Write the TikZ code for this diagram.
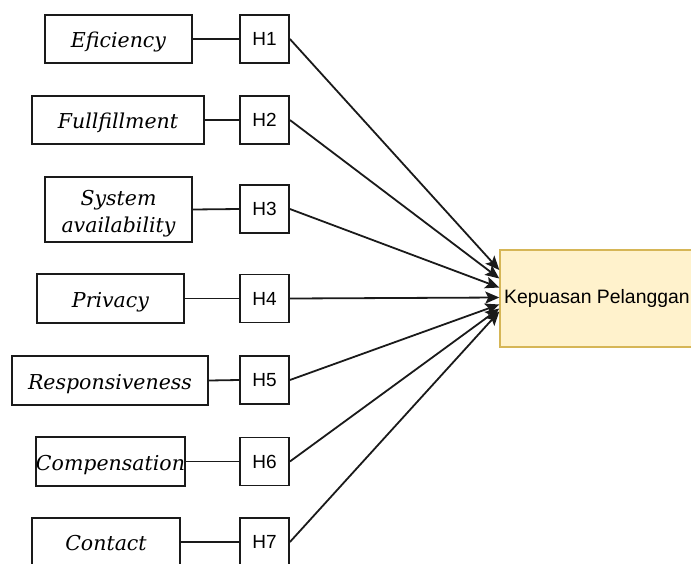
\documentclass[tikz,border=0pt]{standalone}
\usepackage{fontspec}
\setmainfont{Liberation Sans}
\newfontfamily\itfont{DejaVu Serif}
\usetikzlibrary{arrows.meta}
\definecolor{kpfill}{HTML}{FFF2CC}
\definecolor{kpdraw}{HTML}{D6B656}
\definecolor{ln}{HTML}{1A1A1A}
\begin{document}
\begin{tikzpicture}[x=1pt,y=-1pt,
  var/.style={draw=ln,line width=1.8pt,rectangle,inner sep=0pt,minimum height=48pt,
    font=\itfont\itshape\fontsize{20.5}{27}\selectfont,align=center},
  one/.style={text height=19pt,text depth=2pt},
  hyp/.style={draw=ln,line width=1.8pt,rectangle,inner sep=0pt,minimum width=49pt,minimum height=48pt,
    font=\fontsize{19}{22}\selectfont},
  link/.style={draw=ln,line width=1.8pt},
  arr/.style={draw=ln,line width=1.8pt,-{Stealth[length=14pt,width=12pt,inset=3pt]}}]
\useasboundingbox (0,0) rectangle (691,563);
\clip (0,0) rectangle (691,563);
% variables
\node[var,one,minimum width=147pt] (v1) at (118.5,39) {Eficiency};
\node[var,one,minimum width=172pt] (v2) at (118,120) {Fullfillment};
\node[var,minimum width=147pt,minimum height=65pt] (v3) at (118.5,209.5) {\rule{0pt}{23pt}System\\availability};
\node[var,one,minimum width=147pt,minimum height=49pt] (v4) at (110.5,298.5) {Privacy};
\node[var,one,minimum width=196pt,minimum height=49pt] (v5) at (110,380.5) {Responsiveness};
\node[var,one,minimum width=147pt,minimum height=49pt] (v6) at (110.5,461.5) {Compensation};
\node[var,one,minimum width=148pt] (v7) at (106,542) {Contact};
% hypotheses
\node[hyp] (h1) at (264.5,39) {H1};
\node[hyp] (h2) at (264.5,120) {H2};
\node[hyp] (h3) at (264.5,209) {H3};
\node[hyp] (h4) at (264.5,298.5) {H4};
\node[hyp] (h5) at (264.5,380) {H5};
\node[hyp] (h6) at (264.5,461.5) {H6};
\node[hyp] (h7) at (264.5,542) {H7};
% target
\node[draw=kpdraw,fill=kpfill,line width=1.4pt,rectangle,inner sep=0pt,minimum width=222pt,minimum height=97pt] (kp) at (611,298.5) {};
\node[anchor=west,inner sep=0pt,font=\fontsize{19.4}{23}\selectfont] (kpl) at (504,298.5) {Kepuasan Pelanggan};
% links
\foreach \i in {1,...,7} {\draw[link] (v\i.east) -- (h\i.west);}
\draw[arr] (h1.east) -- ([yshift=28.5pt]kp.west);
\draw[arr] (h2.east) -- ([yshift=20pt]kp.west);
\draw[arr] (h3.east) -- ([yshift=11pt]kp.west);
\draw[arr] (h4.east) -- ([yshift=1pt]kp.west);
\draw[arr] (h5.east) -- ([yshift=-6pt]kp.west);
\draw[arr] (h6.east) -- ([yshift=-10pt]kp.west);
\draw[arr] (h7.east) -- ([yshift=-13pt]kp.west);
\end{tikzpicture}
\end{document}
